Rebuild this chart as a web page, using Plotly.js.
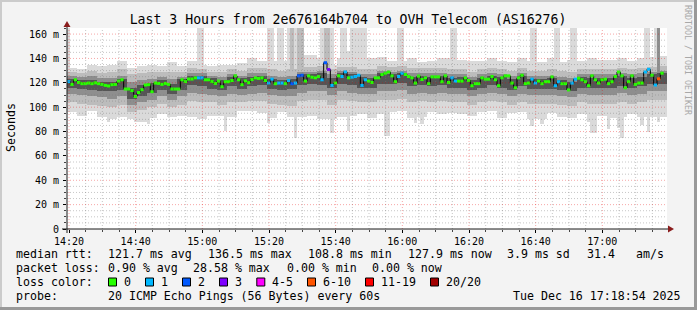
<!DOCTYPE html>
<html><head><meta charset="utf-8">
<script src="https://cdn.plot.ly/plotly-3.0.1.min.js"></script>
<style>html,body{margin:0;padding:0;background:#f3f3f3;overflow:hidden}#chart{width:697px;height:310px}</style>
</head><body><div id="chart"></div>
<script>
// ---------------- data ----------------
const TITLE = 'Last 3 Hours from 2e676164b704 to OVH Telecom (AS16276)';
const Y_TITLE = 'Seconds';
const SIDE_TEXT = 'RRDTOOL / TOBI OETIKER';
const X_TICK_VALS = [20, 40, 60, 80, 100, 120, 140, 160, 180]; // minutes after 14:00
const X_TICK_TEXT = ['14:20', '14:40', '15:00', '15:20', '15:40', '16:00', '16:20', '16:40', '17:00'];
const Y_TICK_VALS = [0, 20, 40, 60, 80, 100, 120, 140, 160];
const Y_TICK_TEXT = ['0', '20 m', '40 m', '60 m', '80 m', '100 m', '120 m', '140 m', '160 m'];
const START_MIN = 19.4;   // first 60 s sample starts at 14:19:24
const X_MAX = 199.4;
const Y_MAX = 165;

// median rtt (ms) for each 60 s sample
const MEDIAN = [
 121.0,118.7,122.5,120.3,119.3,119.3,119.8,119.3,120.0,119.3,
 118.7,117.9,117.4,118.5,118.7,121.4,122.5,114.9,114.9,113.6,
 108.8,112.0,114.4,118.2,118.5,112.7,119.8,119.5,118.7,119.5,
 118.7,114.9,114.9,114.9,122.5,121.0,123.1,123.1,124.1,124.1,
 124.1,122.5,122.5,121.0,119.5,121.4,116.8,120.9,120.9,121.9,
 125.7,122.5,118.5,121.6,120.1,122.7,124.1,123.6,124.1,121.9,
 119.8,123.0,119.3,119.8,119.8,119.3,121.9,119.3,119.8,125.7,
 126.2,121.4,125.7,124.6,124.1,125.2,122.5,136.5,130.9,117.9,
 119.8,125.7,125.2,129.0,124.1,124.6,125.2,126.2,117.9,122.5,
 121.4,120.3,124.1,124.1,126.8,127.9,128.9,125.7,120.9,125.2,
 127.9,126.8,125.2,124.1,119.8,125.5,122.7,124.1,119.3,124.9,
 124.9,124.9,120.9,125.7,120.3,124.1,121.4,121.4,121.4,124.1,
 121.9,117.6,119.3,119.3,124.1,123.0,123.0,125.2,122.5,117.6,
 124.1,125.7,125.7,119.8,115.9,124.1,126.2,119.3,119.8,123.0,
 119.8,121.4,119.3,120.9,120.9,124.9,117.6,120.9,119.3,119.3,
 114.2,119.8,123.0,123.8,122.5,120.9,117.6,125.7,122.5,119.8,
 122.5,123.0,119.3,120.9,125.2,128.9,125.7,115.9,120.9,125.7,
 118.7,119.8,119.8,128.9,131.1,126.2,118.2,123.3,127.9
];
// lost pings (of 20) for each sample
const LOSS = [
 1,0,0,0,0,0,0,0,0,0, 0,0,0,0,0,0,0,0,0,0, 0,0,0,0,0,0,0,0,0,0, 0,0,0,0,0,0,0,0,0,1,
 1,0,0,0,0,0,0,0,0,0, 0,0,0,0,0,0,0,0,0,0, 1,1,0,1,1,0,1,2,1,2, 2,0,0,0,0,0,1,2,3,1,
 0,0,1,1,0,1,1,1,1,1, 0,0,0,0,0,0,0,0,0,1, 1,0,0,0,0,0,0,0,0,0, 0,0,0,0,0,1,1,0,0,0,
 0,0,0,0,0,0,0,0,0,0, 0,0,0,0,0,0,0,0,0,1, 1,0,0,0,0,0,1,1,0,0, 0,1,1,0,0,0,0,0,0,0,
 0,0,0,0,0,0,0,0,0,0, 0,0,0,1,1,0,1,6,0
];
// smoke bands, one value per 3-minute column (lightest = outermost)
const SMOKE1_LO = [96,93,97,92,90,92,90,88,91,94,92,93,92,90,93,93,92,97,97,95,91,96,92,92,93,90,90,92,93,94,91,94,96,97,91,92,96,94,95,94,93,96,97,91,95,96,90,90,95,92,91,94,91,93,91,92,94,92,92,92];
const SMOKE1_HI = [132,131,135,134,135,138,132,134,135,134,137,134,138,135,134,135,135,136,140,138,138,138,145,143,143,140,135,140,146,143,140,141,138,138,140,137,138,140,140,139,138,138,140,138,137,140,138,137,140,137,139,138,140,139,139,140,138,140,141,142];
const SMOKE2_LO = [104,103,102,101,100,102,96,98,100,103,100,102,105,104,104,102,104,104,105,105,103,102,101,105,106,106,102,106,105,104,104,106,106,107,104,105,104,105,104,104,102,104,105,104,102,104,103,103,103,102,101,104,103,103,103,104,103,104,106,106];
const SMOKE2_HI = [129,128,130,128,129,131,127,128,129,129,129,129,132,131,129,129,131,130,132,132,131,130,131,133,133,134,131,133,133,131,131,134,133,134,132,132,132,132,131,131,129,131,132,131,130,132,130,130,131,130,129,131,131,131,131,132,131,132,133,134];
const SMOKE3_LO = [111,110,109,108,107,109,102,104,106,109,106,109,112,111,110,109,111,110,111,112,110,109,109,112,113,113,110,113,112,111,111,113,113,114,111,112,111,112,111,111,109,111,112,111,109,111,110,110,110,109,108,111,110,110,110,112,110,111,113,113];
const SMOKE3_HI = [126,125,126,124,124,126,121,122,123,125,123,125,128,128,126,125,127,126,128,128,126,125,126,129,129,130,127,130,129,127,127,130,129,130,128,128,128,128,127,127,125,127,128,127,126,128,126,126,126,125,124,127,127,127,127,128,127,128,129,130];
const SMOKE4_LO = [116,115,114,113,113,114,107,109,112,114,111,114,118,117,115,114,117,115,117,118,115,114,115,118,119,118,116,119,118,116,116,119,119,120,117,118,117,118,116,116,114,116,118,116,114,117,115,115,115,114,113,116,116,116,116,117,116,117,119,119];
const SMOKE4_HI = [123,122,122,121,121,123,116,118,120,122,119,123,126,126,124,122,125,124,125,126,123,122,123,127,127,128,124,128,127,125,124,128,127,128,125,126,125,126,124,125,122,124,126,125,123,126,123,123,124,122,121,125,124,124,124,126,124,125,127,128];
// single-sample low outliers: sample index and lowest ping (ms)
const LOW_SPIKE_IDX = [12,20,24,47,60,68,79,84,95,96,104,106,139,142,156,157,158,162,165,166,172,174,177];
const LOW_SPIKE_VAL = [88,88,86.5,80.5,87,75,78.5,80.5,76.5,76.5,87,86,84.5,86.5,88,79,79,82.5,83,75,85,79.5,87.5];

// legend
const LOSS_LABELS = ['0', '1', '2', '3', '4-5', '6-10', '11-19', '20/20'];
const LOSS_COLORS = ['#26ff00', '#00b8ff', '#0059ff', '#7e00ff', '#ff00ff', '#ff5500', '#ff0000', '#a10000'];
const LEGEND_ROW1 = ['median rtt:', '121.7 ms avg', '136.5 ms max', '108.8 ms min', '127.9 ms now', '3.9 ms sd', '31.4', 'am/s'];
const LEGEND_ROW2 = ['packet loss:', '0.90 % avg', '28.58 % max', '0.00 % min', '0.00 % now'];
const LEGEND_ROW3 = ['loss color:'];
const LEGEND_ROW4 = ['probe:', '20 ICMP Echo Pings (56 Bytes) every 60s', 'Tue Dec 16 17:18:54 2025'];

// ---------------- layout helpers ----------------
const PL = 67, PR = 667, PT = 28, PB = 229;
const W = PR - PL, H = PB - PT;
const px = x => (x - PL) / W;
const py = y => (PB - y) / H;
const MONO = 'DejaVu Sans Mono';
const SMOKE_COLORS = ['#dadada', '#bcbcbc', '#8e8e8e', '#555555'];

const traces = [];
const colX = SMOKE1_LO.map((_, k) => START_MIN + 3 * k + 1.5);
const bandsLo = [SMOKE1_LO, SMOKE2_LO, SMOKE3_LO, SMOKE4_LO];
const bandsHi = [SMOKE1_HI, SMOKE2_HI, SMOKE3_HI, SMOKE4_HI];
function bar(x, base, top, width, color) {
  return {type: 'bar', x: x, base: base, y: top.map((t, i) => t - base[i]), width: width,
    marker: {color: color, opacity: 1, line: {width: 0}}, hoverinfo: 'skip', showlegend: false};
}
// light low outliers
{
  const xs = [], b = [], t = [];
  LOW_SPIKE_IDX.forEach((idx, j) => {
    const lo1 = SMOKE1_LO[Math.floor(idx / 3)];
    if (LOW_SPIKE_VAL[j] < lo1) { xs.push(START_MIN + idx + 0.5); b.push(LOW_SPIKE_VAL[j]); t.push(lo1); }
  });
  traces.push(bar(xs, b, t, 1, SMOKE_COLORS[0]));
}
for (let b = 0; b < 4; b++) traces.push(bar(colX, bandsLo[b], bandsHi[b], 3, SMOKE_COLORS[b]));
// lost pings push the upper smoke to the top of the graph
for (let b = 0; b < 3; b++) {
  const xs = [], base = [], top = [];
  LOSS.forEach((l, i) => {
    if (l === 0) return;
    const bi = l >= 4 ? 2 : (l >= 2 ? 1 : 0);
    if (bi !== b) return;
    xs.push(START_MIN + i + 0.5); base.push(bandsHi[b][Math.floor(i / 3)]); top.push(Y_MAX);
  });
  traces.push(bar(xs, base, top, 1, SMOKE_COLORS[b]));
}
// black step connectors
traces.push({type: 'scatter', mode: 'lines', x: MEDIAN.map((_, i) => START_MIN + i).concat([START_MIN + MEDIAN.length]),
  y: MEDIAN.concat([MEDIAN[MEDIAN.length - 1]]), line: {shape: 'hv', color: '#000', width: 1},
  hoverinfo: 'skip', showlegend: false});
// median colored by loss
function lossCat(l) { return l <= 3 ? l : l <= 5 ? 4 : l <= 10 ? 5 : l <= 19 ? 6 : 7; }
for (let c = 0; c < LOSS_COLORS.length; c++) {
  const xs = [], ys = [];
  MEDIAN.forEach((m, i) => {
    if (lossCat(LOSS[i]) !== c || LOSS[i] >= 20) return;
    xs.push(START_MIN + i, START_MIN + i + 1, null); ys.push(m, m, null);
  });
  if (xs.length) traces.push({type: 'scatter', mode: 'lines', x: xs, y: ys, connectgaps: false,
    line: {color: LOSS_COLORS[c], width: 3}, hoverinfo: 'skip', showlegend: false});
}

// ---------------- shapes ----------------
const shapes = [];
const gridMinor = 'rgba(120,120,120,0.42)', gridMajor = 'rgba(230,0,0,0.35)';
for (let m = 20; m < X_MAX; m += 5) {
  const major = X_TICK_VALS.indexOf(m) >= 0;
  shapes.push({type: 'line', xref: 'x', yref: 'paper', x0: m, x1: m, y0: 0, y1: 1, layer: 'above',
    line: {color: major ? gridMajor : gridMinor, width: 1, dash: '1px,2px'}});
}
for (let v = 5; v <= 160; v += 5) {
  const major = Y_TICK_VALS.indexOf(v) >= 0;
  shapes.push({type: 'line', xref: 'paper', yref: 'y', x0: 0, x1: 1, y0: v, y1: v, layer: 'above',
    line: {color: major ? gridMajor : gridMinor, width: 1, dash: '1px,2px'}});
}
// axes + arrows
shapes.push({type: 'line', xref: 'paper', yref: 'paper', x0: px(62), x1: px(669), y0: 0, y1: 0, layer: 'above', line: {color: '#1a1a1a', width: 1}});
shapes.push({type: 'line', xref: 'paper', yref: 'paper', x0: 0, x1: 0, y0: py(233), y1: py(25), layer: 'above', line: {color: '#1a1a1a', width: 1}});
shapes.push({type: 'path', xref: 'paper', yref: 'paper', layer: 'above', fillcolor: '#8a1c1c', line: {width: 0},
  path: `M ${px(668)} ${py(225.5)} L ${px(674)} ${py(229)} L ${px(668)} ${py(232.5)} Z`});
shapes.push({type: 'path', xref: 'paper', yref: 'paper', layer: 'above', fillcolor: '#8a1c1c', line: {width: 0},
  path: `M ${px(63.5)} ${py(27)} L ${px(67)} ${py(21)} L ${px(70.5)} ${py(27)} Z`});
// 3D frame
shapes.push({type: 'rect', xref: 'paper', yref: 'paper', x0: px(0), x1: px(697), y0: py(0), y1: py(2), fillcolor: '#cbcbcb', line: {width: 0}, layer: 'below'});
shapes.push({type: 'rect', xref: 'paper', yref: 'paper', x0: px(0), x1: px(2), y0: py(0), y1: py(310), fillcolor: '#cbcbcb', line: {width: 0}, layer: 'below'});
shapes.push({type: 'rect', xref: 'paper', yref: 'paper', x0: px(694), x1: px(697), y0: py(0), y1: py(310), fillcolor: '#999999', line: {width: 0}, layer: 'below'});
shapes.push({type: 'rect', xref: 'paper', yref: 'paper', x0: px(0), x1: px(697), y0: py(307), y1: py(310), fillcolor: '#999999', line: {width: 0}, layer: 'below'});

// ---------------- annotations ----------------
const annotations = [];
function txt(t, x, y, opts) {
  annotations.push(Object.assign({text: t, xref: 'paper', yref: 'paper', x: px(x), y: py(y), xanchor: 'left', yanchor: 'middle',
    showarrow: false, borderpad: 0, borderwidth: 0, font: {family: MONO, size: 11.6, color: '#000'}}, opts || {}));
}
const ROW1_X = [16, 107.5, 207.7, 307.5, 408.3, 506.7, 586.5, 635.5];
const ROW2_X = [16, 107.5, 193.3, 286.7, 372.4];
const ROW4_X = [16, 107.5, 513.3];
LEGEND_ROW1.forEach((t, i) => txt(t, ROW1_X[i], 254));
LEGEND_ROW2.forEach((t, i) => txt(t, ROW2_X[i], 268));
txt(LEGEND_ROW3[0], 16, 282);
LEGEND_ROW4.forEach((t, i) => txt(t, ROW4_X[i], 296));
const BOX_X = [108.5, 145.5, 182.5, 219.5, 256.8, 307.5, 365.5, 430.5];
LOSS_LABELS.forEach((lab, i) => {
  shapes.push({type: 'rect', xref: 'paper', yref: 'paper', x0: px(BOX_X[i]), x1: px(BOX_X[i] + 8), y0: py(286), y1: py(278),
    fillcolor: LOSS_COLORS[i], line: {color: '#000', width: 1}});
  txt(lab, BOX_X[i] + 15, 282);
});
txt(Y_TITLE, 11, 128, {xanchor: 'center', textangle: -90});
txt(SIDE_TEXT, 688, 60, {xanchor: 'center', textangle: 90, font: {family: MONO, size: 8.3, color: '#a8a8a8'}});

const layout = {
  width: 697, height: 310,
  margin: {l: PL, r: 697 - PR, t: PT, b: 310 - PB, pad: 0},
  paper_bgcolor: '#f3f3f3', plot_bgcolor: '#ffffff',
  barmode: 'overlay', bargap: 0,
  showlegend: false, hovermode: false,
  title: {text: TITLE, font: {family: MONO, size: 13.2, color: '#000'}, x: 348 / 697, xref: 'container', xanchor: 'center',
    y: 1 - 19 / 310, yref: 'container', yanchor: 'middle'},
  xaxis: {type: 'linear', range: [START_MIN, X_MAX], fixedrange: true, showgrid: false, zeroline: false, showline: false,
    tickmode: 'array', tickvals: X_TICK_VALS, ticktext: X_TICK_TEXT, ticks: 'outside', ticklen: 3, tickcolor: '#000',
    tickfont: {family: MONO, size: 10, color: '#000'}, automargin: false,
    minor: {tickmode: 'linear', tick0: 0, dtick: 5, ticks: 'outside', ticklen: 2, tickcolor: '#444', showgrid: false}},
  yaxis: {type: 'linear', range: [0, Y_MAX], fixedrange: true, showgrid: false, zeroline: false, showline: false,
    tickmode: 'array', tickvals: Y_TICK_VALS, ticktext: Y_TICK_TEXT, ticks: 'outside', ticklen: 3, tickcolor: '#000',
    tickfont: {family: MONO, size: 10, color: '#000'}, automargin: false, ticklabelstandoff: 2,
    minor: {tickmode: 'linear', tick0: 0, dtick: 5, ticks: 'outside', ticklen: 2, tickcolor: '#444', showgrid: false}},
  shapes: shapes, annotations: annotations
};
Plotly.newPlot('chart', traces, layout, {staticPlot: true, displayModeBar: false});
</script></body></html>
